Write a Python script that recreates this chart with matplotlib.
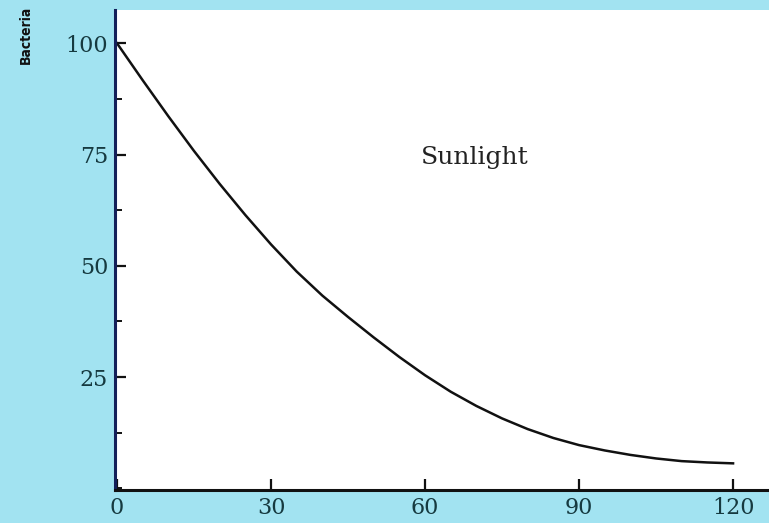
import matplotlib
matplotlib.use("Agg")
import matplotlib.pyplot as plt
from matplotlib.ticker import MultipleLocator

# values (every 5 minutes)
minutes = [0, 5, 10, 15, 20, 25, 30, 35, 40, 45, 50, 55, 60,
           65, 70, 75, 80, 85, 90, 95, 100, 105, 110, 115, 120]
bacteria = [100, 91.7, 83.6, 75.8, 68.4, 61.4, 54.8, 48.7, 43.3, 38.5, 33.9, 29.5, 25.4,
            21.7, 18.5, 15.7, 13.3, 11.3, 9.7, 8.5, 7.5, 6.7, 6.1, 5.8, 5.6]

x_ticks = [0, 30, 60, 90, 120]
y_ticks = [25, 50, 75, 100]

bg = "#a2e3f1"

fig = plt.figure(figsize=(7.69, 5.23), dpi=100, facecolor=bg)
ax = fig.add_axes([0.1495, 0.063, 0.8505, 0.918])
ax.set_facecolor("white")

ax.plot(minutes, bacteria, color="#111111", linewidth=1.8, solid_joinstyle="round")

ax.set_xlim(-0.4, 127)
ax.set_ylim(-0.4, 107.5)
ax.set_xticks(x_ticks)
ax.set_yticks(y_ticks)
ax.yaxis.set_minor_locator(MultipleLocator(12.5))

for s in ["top", "right"]:
    ax.spines[s].set_visible(False)
ax.spines["left"].set_color("#14205a")
ax.spines["left"].set_linewidth(2.2)
ax.spines["bottom"].set_color("#111111")
ax.spines["bottom"].set_linewidth(2.2)

ax.tick_params(axis="both", which="major", direction="in", length=8, width=1.6,
               colors="#111111", labelcolor="#163a40", labelsize=16, pad=5)
ax.tick_params(axis="y", which="minor", direction="in", length=5, width=1.4,
               colors="#111111")
for lab in ax.get_xticklabels() + ax.get_yticklabels():
    lab.set_family("DejaVu Serif")

ax.text(69.6, 74.4, "Sunlight", fontsize=18, family="DejaVu Serif",
        color="#222222", ha="center", va="center")

fig.text(0.034, 1 - 64 / 523, "Bacteria", rotation=90,
         ha="center", va="bottom", fontsize=10, color="#111111",
         family="DejaVu Sans", fontweight="bold", fontstretch="condensed")

fig.savefig("out.png", dpi=100, facecolor=bg)
